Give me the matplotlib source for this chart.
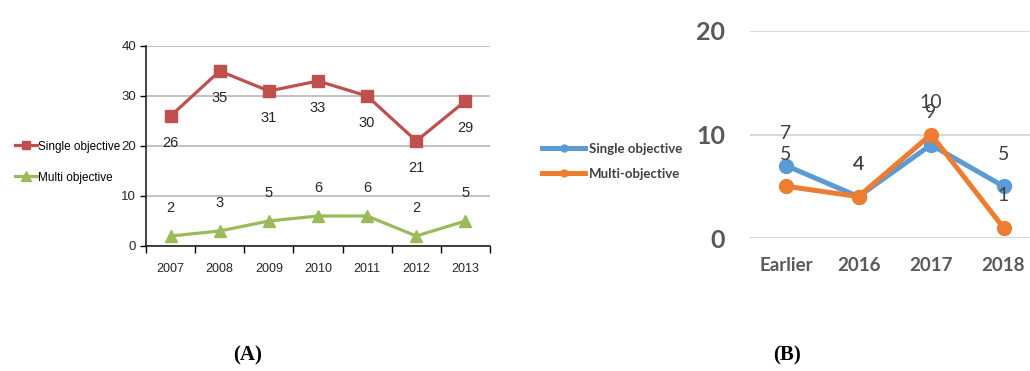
import numpy as np
import matplotlib
matplotlib.use("Agg")
import matplotlib.pyplot as plt

# panel A: publications per year, 2007-2013
years_a = ["2007", "2008", "2009", "2010", "2011", "2012", "2013"]
single_a = [26, 35, 31, 33, 30, 21, 29]
multi_a = [2, 3, 5, 6, 6, 2, 5]

# panel B: publications since 2016
years_b = ["Earlier", "2016", "2017", "2018"]
single_b = [7, 4, 9, 5]
multi_b = [5, 4, 10, 1]

W, H = 1030, 371
fig = plt.figure(figsize=(W / 100, H / 100), dpi=100)

narrow = ["Liberation Sans", "DejaVu Sans"]
calib = ["Lato", "DejaVu Sans"]

# ---------------- panel A ----------------
ax1 = fig.add_axes([146 / W, 125 / H, 344 / W, 200 / H])
x = np.arange(len(years_a))
red, green = "#c0504d", "#9bbb59"
l1, = ax1.plot(x, single_a, color=red, lw=2.3, marker="s", ms=8, label="Single objective")
l2, = ax1.plot(x, multi_a, color=green, lw=2.3, marker="^", ms=9, label="Multi objective")
for xi, v in zip(x, single_a):
    ax1.annotate(str(v), (xi, v), xytext=(0, -27), textcoords="offset pixels",
                 ha="center", va="center", fontsize=10.5, family=narrow, color="#262626")
for xi, v in zip(x, multi_a):
    ax1.annotate(str(v), (xi, v), xytext=(0, 28), textcoords="offset pixels",
                 ha="center", va="center", fontsize=10.5, family=narrow, color="#262626")
ax1.set_xlim(-0.5, 6.5)
ax1.set_ylim(0, 40)
ax1.set_yticks([0, 10, 20, 30, 40])
ax1.yaxis.grid(True, color="#b8b8b8", lw=1.2)
ax1.set_axisbelow(True)
ax1.set_xticks(x)
ax1.set_xticklabels(years_a, family=narrow, fontsize=9, color="#262626")
ax1.set_xticks(np.arange(-0.5, 7, 1), minor=True)
ax1.tick_params(axis="x", which="major", length=0, pad=12)
ax1.tick_params(axis="x", which="minor", length=5, width=1, direction="out")
ax1.tick_params(axis="y", length=4, width=1, pad=3, labelsize=9.5, labelcolor="#262626")
for t in ax1.get_yticklabels():
    t.set_family(narrow)
for s in ["top", "right"]:
    ax1.spines[s].set_visible(False)
ax1.spines["left"].set_color("#222222")
ax1.spines["bottom"].set_color("#222222")
ax1.spines["left"].set_linewidth(1.2)
ax1.spines["bottom"].set_linewidth(1.2)
fig.legend(handles=[l1, l2], loc="upper left", bbox_to_anchor=(4 / W, 1 - 130 / H),
           frameon=False, prop={"family": narrow, "size": 8.5}, handlelength=1.9,
           handletextpad=0.1, labelspacing=1.6, markerscale=0.8)

# ---------------- panel B ----------------
ax2 = fig.add_axes([750 / W, 133 / H, 280 / W, 207 / H])
xb = np.arange(len(years_b))
blue, orange = "#5b9bd5", "#ed7d31"
m1, = ax2.plot(xb, single_b, color=blue, lw=3.6, marker="o", ms=10, label="Single objective")
m2, = ax2.plot(xb, multi_b, color=orange, lw=3.6, marker="o", ms=10, label="Multi-objective")
for xi, v in zip(xb, single_b):
    ax2.annotate(str(v), (xi, v), xytext=(0, 32), textcoords="offset pixels",
                 ha="center", va="center", fontsize=14, family=calib, color="#404040")
for xi, v in zip(xb, multi_b):
    ax2.annotate(str(v), (xi, v), xytext=(0, 32), textcoords="offset pixels",
                 ha="center", va="center", fontsize=14, family=calib, color="#404040")
ax2.set_xlim(-36 / 72.5, (280 - 36) / 72.5)
ax2.set_ylim(0, 20)
ax2.set_yticks([0, 10, 20])
ax2.yaxis.grid(True, color="#d9d9d9", lw=1.5)
ax2.set_axisbelow(True)
ax2.set_xticks(xb)
ax2.set_xticklabels(years_b, family=calib, fontsize=13.5, fontweight="bold", color="#595959")
ax2.tick_params(axis="x", length=0, pad=14)
ax2.tick_params(axis="y", length=0, pad=18)
for t in ax2.get_yticklabels():
    t.set_family(calib)
    t.set_fontsize(18)
    t.set_fontweight("bold")
    t.set_color("#595959")
for s in ax2.spines.values():
    s.set_visible(False)
fig.legend(handles=[m1, m2], loc="upper left", bbox_to_anchor=(530 / W, 1 - 131 / H),
           frameon=False, prop={"family": calib, "size": 9.5, "weight": "bold"},
           labelcolor="#404040", handlelength=3.3, handletextpad=0.3,
           labelspacing=1.0, markerscale=0.5)

# panel captions
fig.text(248 / W, 1 - 355 / H, "(A)", ha="center", va="center",
         family="Liberation Serif", fontweight="bold", fontsize=15)
fig.text(787 / W, 1 - 355 / H, "(B)", ha="center", va="center",
         family="Liberation Serif", fontweight="bold", fontsize=15)

fig.savefig("out.png", dpi=100)
